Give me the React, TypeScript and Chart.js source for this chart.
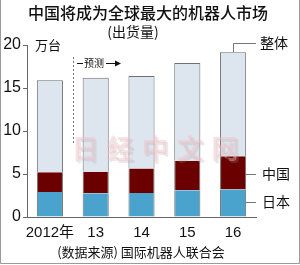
import React, { useEffect, useRef } from "react";
import { Chart, registerables } from "chart.js";

Chart.register(...registerables);

const years = ["2012年", "13", "14", "15", "16"];
const japan = [2.9, 2.75, 2.8, 3.1, 3.2];
const china = [2.3, 2.5, 2.85, 3.45, 3.85];
const rest = [10.7, 10.95, 10.75, 11.35, 12.1];
const yTicks = [0, 5, 10, 15, 20];

const titleText = "中国将成为全球最大的机器人市场";
const subtitleText = "(出货量)";
const unitText = "万台";
const forecastText = "预测";
const sourceText = "(数据来源) 国际机器人联合会";
const seriesNames = ["日本", "中国", "整体"];
const watermark = "日经中文网";

const CJK = "'Noto Sans CJK SC', sans-serif";
const NUM = "'Liberation Sans', 'Noto Sans CJK SC', sans-serif";

const overlay = {
  id: "overlay",
  beforeDatasetsDraw(chart: any) {
    const ctx = chart.ctx;
    const x = chart.scales.x;
    const y = chart.scales.y;
    const xm = (x.getPixelForValue(0) + x.getPixelForValue(1)) / 2;
    ctx.save();
    ctx.strokeStyle = "#777";
    ctx.lineWidth = 1;
    ctx.setLineDash([2, 2]);
    ctx.beginPath();
    ctx.moveTo(Math.round(xm) + 0.5, y.getPixelForValue(18.6));
    ctx.lineTo(Math.round(xm) + 0.5, y.getPixelForValue(8.5));
    ctx.stroke();
    ctx.restore();
  },
  afterDraw(chart: any) {
    const ctx = chart.ctx;
    const x = chart.scales.x;
    const y = chart.scales.y;
    const area = chart.chartArea;
    const W = chart.width;
    const H = chart.height;
    ctx.save();

    // border
    ctx.strokeStyle = "#9a9a9a";
    ctx.lineWidth = 1;
    ctx.beginPath();
    ctx.moveTo(0.5, 0);
    ctx.lineTo(0.5, H - 1.5);
    ctx.lineTo(W - 0.5, H - 1.5);
    ctx.lineTo(W - 0.5, 0);
    ctx.stroke();

    ctx.fillStyle = "#111";
    ctx.textBaseline = "middle";
    ctx.textAlign = "center";
    ctx.font = `500 16px ${CJK}`;
    ctx.fillText(titleText, 148, 13);
    ctx.font = `14px ${CJK}`;
    ctx.fillText(subtitleText, 133, 32);

    ctx.textAlign = "left";
    ctx.font = `13px ${CJK}`;
    ctx.fillText(unitText, area.left + 8, area.top);

    // forecast annotation
    const xm = Math.round((x.getPixelForValue(0) + x.getPixelForValue(1)) / 2);
    const fy = 63;
    ctx.strokeStyle = "#111";
    ctx.lineWidth = 1;
    ctx.beginPath();
    ctx.moveTo(xm + 4, fy + 0.5);
    ctx.lineTo(xm + 10, fy + 0.5);
    ctx.stroke();
    ctx.font = `10px ${CJK}`;
    ctx.fillText(forecastText, xm + 11, fy);
    ctx.beginPath();
    ctx.moveTo(xm + 33, fy + 0.5);
    ctx.lineTo(xm + 43, fy + 0.5);
    ctx.stroke();
    ctx.beginPath();
    ctx.moveTo(xm + 48, fy + 0.5);
    ctx.lineTo(xm + 42, fy - 2.5);
    ctx.lineTo(xm + 42, fy + 3.5);
    ctx.closePath();
    ctx.fillStyle = "#111";
    ctx.fill();

    // legend leaders
    const last = years.length - 1;
    const cx = Math.round(x.getPixelForValue(last));
    const barRight = cx + 13;
    const lx = area.right;
    const total = japan[last] + china[last] + rest[last];
    ctx.strokeStyle = "#777";
    ctx.beginPath();
    const yTop = Math.round(y.getPixelForValue(total));
    const yLab = 43;
    ctx.moveTo(cx + 0.5, yTop);
    ctx.lineTo(cx + 0.5, yLab + 0.5);
    ctx.lineTo(lx, yLab + 0.5);
    ctx.stroke();
    const yCn = Math.round(y.getPixelForValue(5));
    const yJp = Math.round(y.getPixelForValue(1.75));
    ctx.beginPath();
    ctx.moveTo(barRight, yCn + 0.5);
    ctx.lineTo(lx, yCn + 0.5);
    ctx.moveTo(barRight, yJp + 0.5);
    ctx.lineTo(lx, yJp + 0.5);
    ctx.stroke();
    ctx.fillStyle = "#111";
    ctx.font = `14px ${CJK}`;
    ctx.textAlign = "left";
    ctx.fillText(seriesNames[2], lx + 4, yLab);
    ctx.fillText(seriesNames[1], lx + 6, yCn);
    ctx.fillText(seriesNames[0], lx + 6, yJp);

    // source
    ctx.textAlign = "center";
    ctx.font = `13px ${CJK}`;
    ctx.fillText(sourceText, 141, 252);

    // watermark
    ctx.font = `bold 27px ${CJK}`;
    const chars = watermark.split("");
    const wy = 149;
    chars.forEach((c, i) => {
      const wx = 85 + i * 35;
      ctx.fillStyle = "rgba(160,160,160,0.22)";
      ctx.fillText(c, wx + 2, wy + 2);
      ctx.fillStyle = "rgba(245,190,195,0.45)";
      ctx.fillText(c, wx, wy);
    });

    ctx.restore();
  },
};

export default function App() {
  const ref = useRef<HTMLCanvasElement | null>(null);
  useEffect(() => {
    if (!ref.current) return;
    const common = {
      borderColor: "#6f6f6f",
      categoryPercentage: 1,
      barPercentage: 0.57,
    };
    const chart = new Chart(ref.current, {
      type: "bar",
      data: {
        labels: years,
        datasets: [
          { ...common, label: seriesNames[0], data: japan, backgroundColor: "#4aa3cd", borderWidth: { left: 1, right: 1, top: 0, bottom: 0 }, borderSkipped: false },
          { ...common, label: seriesNames[1], data: china, backgroundColor: "#6b0000", borderWidth: { left: 1, right: 1, top: 0, bottom: 0 }, borderSkipped: false },
          { ...common, label: seriesNames[2], data: rest, backgroundColor: "#dde6ef", borderWidth: { left: 1, right: 1, top: 1, bottom: 0 }, borderSkipped: false },
        ],
      },
      options: {
        animation: false,
        responsive: true,
        maintainAspectRatio: false,
        layout: { padding: { left: 0, right: 44, top: 45, bottom: 0 } },
        plugins: { legend: { display: false }, tooltip: { enabled: false }, title: { display: false } },
        scales: {
          x: {
            stacked: true,
            offset: true,
            grid: { display: false, drawTicks: false },
            border: { display: true, color: "#666", width: 1 },
            ticks: { color: "#111", font: { family: NUM, size: 15 }, padding: 7, maxRotation: 0, autoSkip: false },
            afterFit: (s: any) => { s.height = 48; },
          },
          y: {
            stacked: true,
            min: 0,
            max: 20,
            afterBuildTicks: (s: any) => { s.ticks = yTicks.map((v) => ({ value: v })); },
            grid: { display: true, drawOnChartArea: false, drawTicks: true, tickLength: 4, color: "#666" },
            border: { display: true, color: "#666", width: 1 },
            ticks: { color: "#111", font: { family: NUM, size: 16 }, padding: 2 },
            afterFit: (s: any) => { s.width = 27; },
          },
        },
      },
      plugins: [overlay],
    });
    return () => chart.destroy();
  }, []);
  return (
    <div style={{ position: "fixed", left: 0, top: 0, width: 300, height: 265, background: "#fff" }}>
      <canvas ref={ref} />
    </div>
  );
}
